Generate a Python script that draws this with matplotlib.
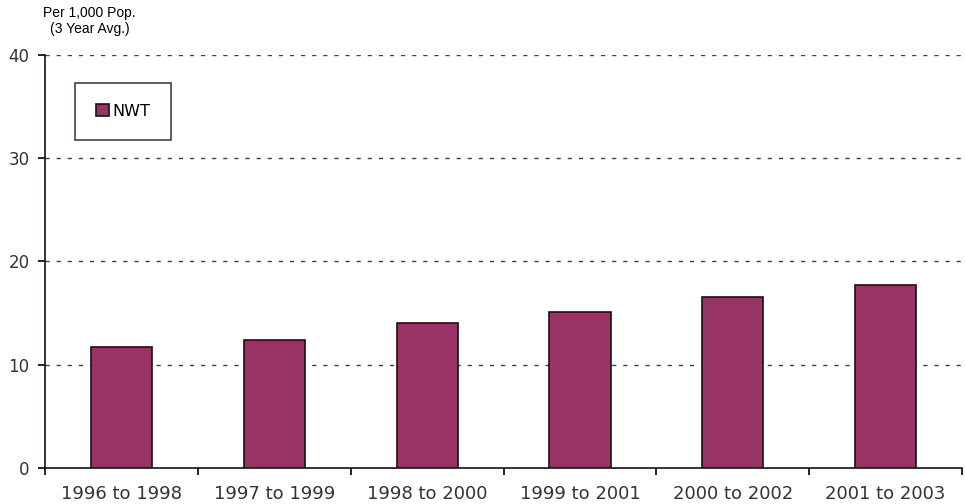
import matplotlib.pyplot as plt
import numpy as np

plt.rcParams['font.family'] = ['DejaVu Sans']

periods = ['1996 to 1998', '1997 to 1999', '1998 to 2000',
           '1999 to 2001', '2000 to 2002', '2001 to 2003']
nwt = [11.7, 12.4, 14.0, 15.1, 16.6, 17.7]

fig = plt.figure(figsize=(9.65, 5.04), dpi=100)
ax = fig.add_axes([0.0466, 0.0714, 0.9504, 0.8196])

x = np.arange(len(periods))
ax.bar(x, nwt, width=0.4, color='#993366', edgecolor='#1a1010',
       linewidth=1.2, label='NWT', zorder=3)

ax.set_xlim(-0.5, len(periods) - 0.5)
ax.set_ylim(0, 40)
ax.set_yticks([0, 10, 20, 30, 40])
ax.set_xticks(x)
ax.set_xticklabels(periods, fontsize=13, color='#333333')
ax.set_xticks(np.arange(-0.5, len(periods)), minor=True)
ax.tick_params(axis='x', which='major', length=0, pad=12)
ax.tick_params(axis='x', which='minor', length=5, direction='out', width=1.2)
ax.tick_params(axis='y', labelsize=12, labelcolor='#333333', length=5,
               direction='out', width=1.2, pad=6)

for v in [10, 20, 30, 40]:
    ax.axhline(v, color='#334444', linestyle=(0, (3, 5)), linewidth=1.0, zorder=1)

for s in ['top', 'right']:
    ax.spines[s].set_visible(False)
ax.spines['left'].set_linewidth(1.2)
ax.spines['bottom'].set_linewidth(1.2)
ax.spines['left'].set_color('#1a1010')
ax.spines['bottom'].set_color('#1a1010')

leg = ax.legend(loc='upper left', bbox_to_anchor=(0.033, 0.932), fontsize=11.5,
                frameon=True, fancybox=False, borderpad=1.3, handlelength=0.8,
                handleheight=0.8, handletextpad=0.2, borderaxespad=0)
leg.get_frame().set_edgecolor('#1a1010')
leg.get_frame().set_linewidth(1.2)

fig.text(0.093, 0.975, 'Per 1,000 Pop.', fontsize=10, ha='center', va='center',
         family='Liberation Sans')
fig.text(0.093, 0.942, '(3 Year Avg.)', fontsize=10, ha='center', va='center',
         family='Liberation Sans')

plt.savefig('out.png', dpi=100)
